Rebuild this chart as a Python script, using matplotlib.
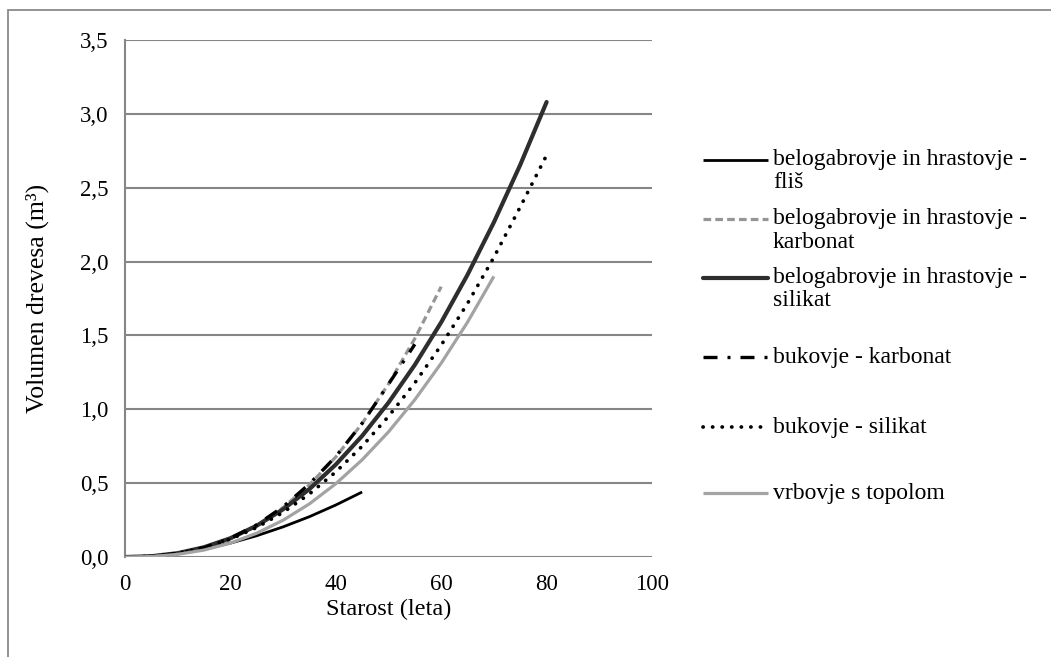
import matplotlib.pyplot as plt
from matplotlib.lines import Line2D
from matplotlib.patches import Rectangle

plt.rcParams['font.family'] = ['Liberation Serif', 'DejaVu Serif']

# Starost (leta) in volumen drevesa (m3), odcitano s slike
age_flis = [0, 5, 10, 15, 20, 25, 30, 35, 40, 45]
vol_flis = [0, 0.007, 0.025, 0.055, 0.094, 0.144, 0.204, 0.273, 0.352, 0.44]

age_bh_karb = [0, 5, 10, 15, 20, 25, 30, 35, 40, 45, 50, 55, 60]
vol_bh_karb = [0, 0.004, 0.023, 0.061, 0.124, 0.214, 0.335, 0.489, 0.677, 0.904, 1.171, 1.479, 1.83]

age_bh_sil = [0, 5, 10, 15, 20, 25, 30, 35, 40, 45, 50, 55, 60, 65, 70, 75, 80]
vol_bh_sil = [0, 0.005, 0.026, 0.066, 0.127, 0.212, 0.323, 0.46, 0.626, 0.82, 1.045, 1.301,
              1.589, 1.911, 2.266, 2.655, 3.08]

age_buk_karb = [0, 5, 10, 15, 20, 25, 30, 35, 40, 45, 50, 55]
vol_buk_karb = [0, 0.004, 0.024, 0.063, 0.127, 0.218, 0.34, 0.495, 0.68, 0.905, 1.17, 1.44]

age_buk_sil = [0, 5, 10, 15, 20, 25, 30, 35, 40, 45, 50, 55, 60, 65, 70, 75, 80]
vol_buk_sil = [0, 0.005, 0.025, 0.063, 0.121, 0.2, 0.302, 0.427, 0.576, 0.75, 0.952, 1.179,
               1.434, 1.717, 2.029, 2.37, 2.72]

age_vrb = [0, 5, 10, 15, 20, 25, 30, 35, 40, 45, 50, 55, 60, 65, 70]
vol_vrb = [0, 0.003, 0.018, 0.047, 0.094, 0.161, 0.249, 0.36, 0.496, 0.658, 0.847, 1.065,
           1.312, 1.59, 1.9]

labels = ['belogabrovje in hrastovje -\nfliš',
          'belogabrovje in hrastovje -\nkarbonat',
          'belogabrovje in hrastovje -\nsilikat',
          'bukovje - karbonat',
          'bukovje - silikat',
          'vrbovje s topolom']

x_ticks = [0, 20, 40, 60, 80, 100]
y_ticks = [0, 0.5, 1.0, 1.5, 2.0, 2.5, 3.0, 3.5]
y_ticklabels = ['0,0', '0,5', '1,0', '1,5', '2,0', '2,5', '3,0', '3,5']

W, H = 1051, 657
fig = plt.figure(figsize=(W / 100, H / 100), dpi=100)
ax = fig.add_axes([125 / W, 1 - 557 / H, (652 - 125) / W, (557 - 40) / H])

grid_col = '#868686'

# line styles for each series
styles = [
    dict(color='black', lw=2.0, solid_capstyle='butt'),
    dict(color='#959595', lw=2.3, dashes=(2.4, 1.3), dash_capstyle='butt'),
    dict(color='#2e2e2e', lw=3.0, solid_capstyle='round'),
    dict(color='black', lw=2.4, dashes=(4.2, 3.0, 0.9, 3.0), dash_capstyle='butt'),
    dict(color='black', lw=2.7, dashes=(0.05, 2.5), dash_capstyle='round'),
    dict(color='#a3a3a3', lw=2.3, solid_capstyle='butt'),
]

series = [(age_flis, vol_flis), (age_bh_karb, vol_bh_karb), (age_bh_sil, vol_bh_sil),
          (age_buk_karb, vol_buk_karb), (age_buk_sil, vol_buk_sil), (age_vrb, vol_vrb)]

# draw order: lighter lines first so dark ones sit on top
order = [5, 1, 0, 2, 4, 3]
for i in order:
    xs, ys = series[i]
    ax.plot(xs, ys, zorder=3 + i * 0.1, **styles[i])

ax.set_xlim(0, 100)
ax.set_ylim(0, 3.5)
ax.set_xticks(x_ticks)
ax.set_yticks(y_ticks)
ax.set_yticklabels(y_ticklabels)
ax.tick_params(length=0, labelsize=16.5, colors='black')
ax.tick_params(axis='x', pad=12)
ax.tick_params(axis='y', pad=12)
ax.grid(axis='y', color=grid_col, lw=1.5)
ax.set_axisbelow(True)
for s in ['top', 'right', 'bottom']:
    ax.spines[s].set_visible(False)
ax.spines['left'].set_color(grid_col)
ax.spines['left'].set_linewidth(1.5)

ax.set_xlabel('Starost (leta)', fontsize=17.5, labelpad=3)
ax.set_ylabel('Volumen drevesa (m³)', fontsize=18.5, labelpad=22)

# legend drawn by hand so the handle sits on the first text line, like Excel
handle_y = [160, 219, 278, 357, 427, 493]
for i, lab in enumerate(labels):
    y = 1 - handle_y[i] / H
    st = dict(styles[i])
    fig.add_artist(Line2D([703 / W, 768 / W], [y, y], transform=fig.transFigure, **st))
    for k, line in enumerate(lab.split('\n')):
        fig.text(773 / W, 1 - (handle_y[i] + 23 * k) / H, line, fontsize=17,
                 va='center', ha='left')

# outer border (right and bottom edges are cut off in the original)
fig.add_artist(Rectangle((8 / W, -0.1), 1.5, 1.1 - 10 / H, transform=fig.transFigure,
                         fill=False, edgecolor='#8a8a8a', lw=1.3))

fig.savefig('out.png', dpi=100)
